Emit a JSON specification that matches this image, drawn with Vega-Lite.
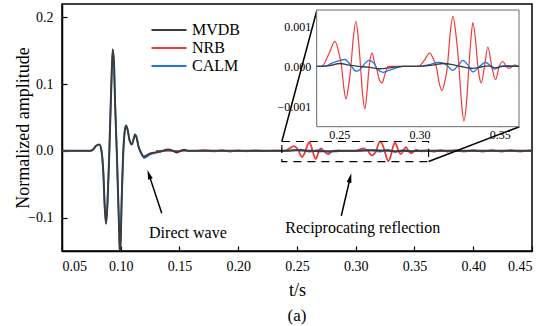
{
"$schema": "https://vega.github.io/schema/vega-lite/v6.json",
"width": 470, "height": 247,
"autosize": {"type": "none"},
"padding": {"left": 62, "top": 4, "right": 18, "bottom": 75},
"title": {"text": "(a)", "orient": "bottom", "fontSize": 17, "fontWeight": "normal", "font": "Liberation Serif", "offset": 9, "color": "black"},
"config": {
  "font": "Liberation Serif",
  "view": {"stroke": "black", "strokeWidth": 1.5},
  "axis": {"labelColor": "black", "titleColor": "black", "grid": false, "domainColor": "black", "tickColor": "black", "titleFontWeight": "normal", "labelOverlap": false, "labelFont": "Liberation Serif", "titleFont": "Liberation Serif"},
  "legend": {"labelFont": "Liberation Serif", "labelColor": "black"}
},
"datasets": {
  "main": [
    {"s":"NRB","t":0.13,"v":0},{"s":"NRB","t":0.165,"v":0},{"s":"NRB","t":0.172,"v":0.0012},{"s":"NRB","t":0.179,"v":-0.0008},{"s":"NRB","t":0.186,"v":0.001},{"s":"NRB","t":0.193,"v":-0.001},{"s":"NRB","t":0.2,"v":0.0008},{"s":"NRB","t":0.207,"v":-0.0006},{"s":"NRB","t":0.214,"v":0.0008},{"s":"NRB","t":0.222,"v":-0.0005},{"s":"NRB","t":0.23,"v":0.0004},{"s":"NRB","t":0.2391,"v":0},{"s":"NRB","t":0.2435,"v":0.0035},{"s":"NRB","t":0.2474,"v":0.0071},{"s":"NRB","t":0.25,"v":0.0035},{"s":"NRB","t":0.2515,"v":0},{"s":"NRB","t":0.2528,"v":-0.0058},{"s":"NRB","t":0.2542,"v":-0.0093},{"s":"NRB","t":0.2558,"v":-0.0058},{"s":"NRB","t":0.2573,"v":0},{"s":"NRB","t":0.2588,"v":0.0081},{"s":"NRB","t":0.2604,"v":0.0129},{"s":"NRB","t":0.2619,"v":0.0081},{"s":"NRB","t":0.2633,"v":0},{"s":"NRB","t":0.2646,"v":-0.0081},{"s":"NRB","t":0.266,"v":-0.0122},{"s":"NRB","t":0.2674,"v":-0.0069},{"s":"NRB","t":0.2687,"v":0},{"s":"NRB","t":0.2705,"v":0.0038},{"s":"NRB","t":0.272,"v":0.0012},{"s":"NRB","t":0.2736,"v":-0.0012},{"s":"NRB","t":0.2752,"v":-0.004},{"s":"NRB","t":0.2767,"v":-0.0047},{"s":"NRB","t":0.2785,"v":-0.0023},{"s":"NRB","t":0.2805,"v":0},{"s":"NRB","t":0.2855,"v":0.0006},{"s":"NRB","t":0.2905,"v":-0.0005},{"s":"NRB","t":0.2991,"v":0},{"s":"NRB","t":0.303,"v":0.0017},{"s":"NRB","t":0.3064,"v":0.0038},{"s":"NRB","t":0.309,"v":0.0017},{"s":"NRB","t":0.3105,"v":0},{"s":"NRB","t":0.3122,"v":-0.0046},{"s":"NRB","t":0.314,"v":-0.0069},{"s":"NRB","t":0.3157,"v":-0.0046},{"s":"NRB","t":0.3174,"v":0},{"s":"NRB","t":0.3191,"v":0.0092},{"s":"NRB","t":0.3208,"v":0.0143},{"s":"NRB","t":0.3227,"v":0.0092},{"s":"NRB","t":0.3246,"v":0},{"s":"NRB","t":0.3262,"v":-0.0104},{"s":"NRB","t":0.3277,"v":-0.0156},{"s":"NRB","t":0.3293,"v":-0.0104},{"s":"NRB","t":0.3308,"v":0},{"s":"NRB","t":0.3321,"v":0.008},{"s":"NRB","t":0.3333,"v":0.0125},{"s":"NRB","t":0.3348,"v":0.008},{"s":"NRB","t":0.3364,"v":0},{"s":"NRB","t":0.3375,"v":-0.0035},{"s":"NRB","t":0.3385,"v":-0.0047},{"s":"NRB","t":0.3405,"v":0},{"s":"NRB","t":0.3426,"v":0.0055},{"s":"NRB","t":0.345,"v":0},{"s":"NRB","t":0.3474,"v":-0.0038},{"s":"NRB","t":0.3497,"v":0},{"s":"NRB","t":0.3519,"v":0.0014},{"s":"NRB","t":0.354,"v":0},{"s":"NRB","t":0.356,"v":-0.0006},{"s":"NRB","t":0.36,"v":0.0008},{"s":"NRB","t":0.366,"v":-0.0012},{"s":"NRB","t":0.372,"v":0.0012},{"s":"NRB","t":0.378,"v":-0.001},{"s":"NRB","t":0.385,"v":0.0012},{"s":"NRB","t":0.392,"v":-0.001},{"s":"NRB","t":0.4,"v":0.001},{"s":"NRB","t":0.408,"v":-0.0012},{"s":"NRB","t":0.416,"v":0.001},{"s":"NRB","t":0.424,"v":-0.001},{"s":"NRB","t":0.432,"v":0.0012},{"s":"NRB","t":0.44,"v":-0.001},{"s":"NRB","t":0.448,"v":0.0008},{"s":"NRB","t":0.45,"v":0},
    {"s":"CALM","t":0.05,"v":0},{"s":"CALM","t":0.074,"v":0},{"s":"CALM","t":0.0765,"v":0.002},{"s":"CALM","t":0.079,"v":0.0075},{"s":"CALM","t":0.0818,"v":0.0096},{"s":"CALM","t":0.0836,"v":0},{"s":"CALM","t":0.0852,"v":-0.0336},{"s":"CALM","t":0.0864,"v":-0.085},{"s":"CALM","t":0.0875,"v":-0.109},{"s":"CALM","t":0.0888,"v":-0.075},{"s":"CALM","t":0.0903,"v":0},{"s":"CALM","t":0.092,"v":0.1},{"s":"CALM","t":0.0932,"v":0.152},{"s":"CALM","t":0.0944,"v":0.125},{"s":"CALM","t":0.0951,"v":0.076},{"s":"CALM","t":0.0966,"v":0},{"s":"CALM","t":0.0983,"v":-0.0995},{"s":"CALM","t":0.0994,"v":-0.158},{"s":"CALM","t":0.1008,"v":-0.074},{"s":"CALM","t":0.1022,"v":0},{"s":"CALM","t":0.1033,"v":0.028},{"s":"CALM","t":0.1045,"v":0.038},{"s":"CALM","t":0.1058,"v":0.032},{"s":"CALM","t":0.1074,"v":0.0166},{"s":"CALM","t":0.1094,"v":0.0096},{"s":"CALM","t":0.111,"v":0.018},{"s":"CALM","t":0.1122,"v":0.0246},{"s":"CALM","t":0.1135,"v":0.02},{"s":"CALM","t":0.1151,"v":0.0067},{"s":"CALM","t":0.1171,"v":-0.003},{"s":"CALM","t":0.1198,"v":-0.0108},{"s":"CALM","t":0.125,"v":-0.0055},{"s":"CALM","t":0.1335,"v":-0.0015},{"s":"CALM","t":0.1405,"v":0.0015},{"s":"CALM","t":0.1445,"v":0},{"s":"CALM","t":0.1477,"v":-0.0028},{"s":"CALM","t":0.151,"v":0},{"s":"CALM","t":0.154,"v":0.0012},{"s":"CALM","t":0.158,"v":0},{"s":"CALM","t":0.241,"v":0},{"s":"CALM","t":0.2536,"v":0.002},{"s":"CALM","t":0.2577,"v":0},{"s":"CALM","t":0.2612,"v":-0.0014},{"s":"CALM","t":0.2655,"v":0.0006},{"s":"CALM","t":0.2687,"v":0.0017},{"s":"CALM","t":0.274,"v":-0.0009},{"s":"CALM","t":0.2774,"v":-0.0017},{"s":"CALM","t":0.2855,"v":-0.0005},{"s":"CALM","t":0.29,"v":0},{"s":"CALM","t":0.3,"v":0},{"s":"CALM","t":0.312,"v":0.0011},{"s":"CALM","t":0.3207,"v":-0.0011},{"s":"CALM","t":0.3271,"v":0.0017},{"s":"CALM","t":0.3333,"v":-0.0016},{"s":"CALM","t":0.3411,"v":0.0011},{"s":"CALM","t":0.3467,"v":-0.0008},{"s":"CALM","t":0.352,"v":0},{"s":"CALM","t":0.45,"v":0},
    {"s":"MVDB","t":0.05,"v":0},{"s":"MVDB","t":0.074,"v":0},{"s":"MVDB","t":0.0765,"v":0.002},{"s":"MVDB","t":0.079,"v":0.0075},{"s":"MVDB","t":0.0818,"v":0.0096},{"s":"MVDB","t":0.0836,"v":0},{"s":"MVDB","t":0.0852,"v":-0.0336},{"s":"MVDB","t":0.0864,"v":-0.085},{"s":"MVDB","t":0.0875,"v":-0.109},{"s":"MVDB","t":0.0888,"v":-0.075},{"s":"MVDB","t":0.0903,"v":0},{"s":"MVDB","t":0.092,"v":0.1},{"s":"MVDB","t":0.0932,"v":0.152},{"s":"MVDB","t":0.0944,"v":0.125},{"s":"MVDB","t":0.0951,"v":0.076},{"s":"MVDB","t":0.0966,"v":0},{"s":"MVDB","t":0.0983,"v":-0.0995},{"s":"MVDB","t":0.0994,"v":-0.158},{"s":"MVDB","t":0.1008,"v":-0.074},{"s":"MVDB","t":0.1022,"v":0},{"s":"MVDB","t":0.1033,"v":0.028},{"s":"MVDB","t":0.1045,"v":0.038},{"s":"MVDB","t":0.1058,"v":0.032},{"s":"MVDB","t":0.1074,"v":0.0166},{"s":"MVDB","t":0.1094,"v":0.0096},{"s":"MVDB","t":0.111,"v":0.018},{"s":"MVDB","t":0.1122,"v":0.0246},{"s":"MVDB","t":0.1135,"v":0.02},{"s":"MVDB","t":0.1151,"v":0.0067},{"s":"MVDB","t":0.1171,"v":-0.002},{"s":"MVDB","t":0.1198,"v":-0.0086},{"s":"MVDB","t":0.125,"v":-0.004},{"s":"MVDB","t":0.1335,"v":-0.001},{"s":"MVDB","t":0.1405,"v":0.002},{"s":"MVDB","t":0.1445,"v":0},{"s":"MVDB","t":0.1477,"v":-0.002},{"s":"MVDB","t":0.151,"v":0},{"s":"MVDB","t":0.154,"v":0.0015},{"s":"MVDB","t":0.158,"v":0},{"s":"MVDB","t":0.24,"v":0},{"s":"MVDB","t":0.2505,"v":0.0008},{"s":"MVDB","t":0.262,"v":0},{"s":"MVDB","t":0.2753,"v":-0.0007},{"s":"MVDB","t":0.29,"v":0},{"s":"MVDB","t":0.3,"v":0},{"s":"MVDB","t":0.315,"v":0.0008},{"s":"MVDB","t":0.328,"v":0},{"s":"MVDB","t":0.3333,"v":-0.0006},{"s":"MVDB","t":0.34,"v":0},{"s":"MVDB","t":0.3474,"v":-0.0005},{"s":"MVDB","t":0.355,"v":0},{"s":"MVDB","t":0.45,"v":0}
  ],
  "inset": [
    {"s":"NRB","t":0.236,"v":0},{"s":"NRB","t":0.2391,"v":0},{"s":"NRB","t":0.2435,"v":0.0003},{"s":"NRB","t":0.2474,"v":0.00062},{"s":"NRB","t":0.25,"v":0.0003},{"s":"NRB","t":0.2515,"v":0},{"s":"NRB","t":0.2528,"v":-0.0005},{"s":"NRB","t":0.2542,"v":-0.00081},{"s":"NRB","t":0.2558,"v":-0.0005},{"s":"NRB","t":0.2573,"v":0},{"s":"NRB","t":0.2588,"v":0.0007},{"s":"NRB","t":0.2604,"v":0.00112},{"s":"NRB","t":0.2619,"v":0.0007},{"s":"NRB","t":0.2633,"v":0},{"s":"NRB","t":0.2646,"v":-0.0007},{"s":"NRB","t":0.266,"v":-0.00106},{"s":"NRB","t":0.2674,"v":-0.0006},{"s":"NRB","t":0.2687,"v":0},{"s":"NRB","t":0.2705,"v":0.00033},{"s":"NRB","t":0.272,"v":0.0001},{"s":"NRB","t":0.2736,"v":-0.0001},{"s":"NRB","t":0.2752,"v":-0.00035},{"s":"NRB","t":0.2767,"v":-0.00041},{"s":"NRB","t":0.2785,"v":-0.0002},{"s":"NRB","t":0.2805,"v":0},{"s":"NRB","t":0.2991,"v":0},{"s":"NRB","t":0.303,"v":0.00015},{"s":"NRB","t":0.3064,"v":0.00033},{"s":"NRB","t":0.309,"v":0.00015},{"s":"NRB","t":0.3105,"v":0},{"s":"NRB","t":0.3122,"v":-0.0004},{"s":"NRB","t":0.314,"v":-0.0006},{"s":"NRB","t":0.3157,"v":-0.0004},{"s":"NRB","t":0.3174,"v":0},{"s":"NRB","t":0.3191,"v":0.0008},{"s":"NRB","t":0.3208,"v":0.00124},{"s":"NRB","t":0.3227,"v":0.0008},{"s":"NRB","t":0.3246,"v":0},{"s":"NRB","t":0.3262,"v":-0.0009},{"s":"NRB","t":0.3277,"v":-0.00136},{"s":"NRB","t":0.3293,"v":-0.0009},{"s":"NRB","t":0.3308,"v":0},{"s":"NRB","t":0.3321,"v":0.0007},{"s":"NRB","t":0.3333,"v":0.00109},{"s":"NRB","t":0.3348,"v":0.0007},{"s":"NRB","t":0.3364,"v":0},{"s":"NRB","t":0.3375,"v":-0.0003},{"s":"NRB","t":0.3385,"v":-0.00041},{"s":"NRB","t":0.3405,"v":0},{"s":"NRB","t":0.3426,"v":0.00048},{"s":"NRB","t":0.345,"v":0},{"s":"NRB","t":0.3474,"v":-0.00033},{"s":"NRB","t":0.3497,"v":0},{"s":"NRB","t":0.3519,"v":0.00012},{"s":"NRB","t":0.354,"v":0},{"s":"NRB","t":0.356,"v":-0.00005},{"s":"NRB","t":0.359,"v":0.00003},{"s":"NRB","t":0.362,"v":0},
    {"s":"CALM","t":0.236,"v":0},{"s":"CALM","t":0.241,"v":0},{"s":"CALM","t":0.2455,"v":0.00008},{"s":"CALM","t":0.2505,"v":0.00015},{"s":"CALM","t":0.2536,"v":0.00017},{"s":"CALM","t":0.2557,"v":0.0001},{"s":"CALM","t":0.2577,"v":0},{"s":"CALM","t":0.2595,"v":-0.0001},{"s":"CALM","t":0.2612,"v":-0.00012},{"s":"CALM","t":0.263,"v":-0.00008},{"s":"CALM","t":0.2655,"v":0.00005},{"s":"CALM","t":0.2687,"v":0.00015},{"s":"CALM","t":0.2715,"v":0.00008},{"s":"CALM","t":0.274,"v":-0.00008},{"s":"CALM","t":0.2774,"v":-0.00015},{"s":"CALM","t":0.281,"v":-0.0001},{"s":"CALM","t":0.2855,"v":-0.00004},{"s":"CALM","t":0.29,"v":0},{"s":"CALM","t":0.3,"v":0},{"s":"CALM","t":0.306,"v":0.00004},{"s":"CALM","t":0.312,"v":0.0001},{"s":"CALM","t":0.3165,"v":0.00005},{"s":"CALM","t":0.3207,"v":-0.0001},{"s":"CALM","t":0.324,"v":0.00002},{"s":"CALM","t":0.3271,"v":0.00015},{"s":"CALM","t":0.3302,"v":0.00003},{"s":"CALM","t":0.3333,"v":-0.00014},{"s":"CALM","t":0.337,"v":-0.00002},{"s":"CALM","t":0.3411,"v":0.0001},{"s":"CALM","t":0.344,"v":0.00002},{"s":"CALM","t":0.3467,"v":-0.00007},{"s":"CALM","t":0.35,"v":0},{"s":"CALM","t":0.354,"v":0.00002},{"s":"CALM","t":0.362,"v":0},
    {"s":"MVDB","t":0.236,"v":0},{"s":"MVDB","t":0.244,"v":0.00002},{"s":"MVDB","t":0.2505,"v":0.00007},{"s":"MVDB","t":0.256,"v":0.00003},{"s":"MVDB","t":0.262,"v":0},{"s":"MVDB","t":0.268,"v":-0.00002},{"s":"MVDB","t":0.2753,"v":-0.00006},{"s":"MVDB","t":0.282,"v":-0.00003},{"s":"MVDB","t":0.29,"v":0},{"s":"MVDB","t":0.3,"v":0},{"s":"MVDB","t":0.308,"v":0.00003},{"s":"MVDB","t":0.315,"v":0.00007},{"s":"MVDB","t":0.322,"v":0.00003},{"s":"MVDB","t":0.328,"v":-0.00002},{"s":"MVDB","t":0.3333,"v":-0.00005},{"s":"MVDB","t":0.339,"v":-0.00001},{"s":"MVDB","t":0.343,"v":0.00001},{"s":"MVDB","t":0.3474,"v":-0.00004},{"s":"MVDB","t":0.352,"v":0},{"s":"MVDB","t":0.362,"v":0}
  ]
},
"layer": [
  {
    "layer": [
      {"data": {"name": "main"}, "transform": [{"filter": "datum.s === 'NRB'"}],
       "mark": {"type": "line", "interpolate": "monotone", "strokeWidth": 1.8, "clip": true},
       "encoding": {
         "x": {"field": "t", "type": "quantitative", "scale": {"domain": [0.05, 0.45], "nice": false, "zero": false},
               "axis": {"title": "t/s", "values": [0.05,0.1,0.15,0.2,0.25,0.3,0.35,0.4,0.45], "format": ".2f", "tickSize": -5, "tickWidth": 1.2, "labelFont": "Liberation Serif", "titleFont": "Liberation Serif", "labelFontSize": 14, "labelPadding": 13, "titleFontSize": 18, "titlePadding": 8, "domainWidth": 1.5}},
         "y": {"field": "v", "type": "quantitative", "scale": {"domain": [-0.15, 0.22], "nice": false, "zero": false},
               "axis": {"title": "Normalized amplitude", "values": [-0.1, 0, 0.1, 0.2], "format": ".1f", "tickSize": -5, "tickWidth": 1.2, "labelFont": "Liberation Serif", "titleFont": "Liberation Serif", "labelFontSize": 14, "labelPadding": 14, "titleFontSize": 18, "titlePadding": -5, "domainWidth": 1.5}},
         "color": {"field": "s", "type": "nominal", "scale": {"domain": ["MVDB", "NRB", "CALM"], "range": ["#3c3c3c", "#f23a3a", "#1f74e4"]},
                   "legend": {"orient": "none", "legendX": 99, "legendY": 18, "title": null, "labelFont": "Liberation Serif", "labelFontSize": 16, "symbolType": "M-3.5,0H3.5", "symbolSize": 100, "symbolStrokeWidth": 2, "symbolFillColor": "transparent", "labelOffset": 15, "rowPadding": 2}}
       }},
      {"data": {"name": "main"}, "transform": [{"filter": "datum.s === 'CALM'"}],
       "mark": {"type": "line", "interpolate": "monotone", "strokeWidth": 1.6, "clip": true},
       "encoding": {"x": {"field": "t", "type": "quantitative"}, "y": {"field": "v", "type": "quantitative"}, "color": {"field": "s", "type": "nominal"}}},
      {"data": {"name": "main"}, "transform": [{"filter": "datum.s === 'MVDB'"}],
       "mark": {"type": "line", "interpolate": "monotone", "strokeWidth": 2, "clip": true},
       "encoding": {"x": {"field": "t", "type": "quantitative"}, "y": {"field": "v", "type": "quantitative"}, "color": {"field": "s", "type": "nominal"}}},
      {"data": {"values": [{"xa": 0.2371, "xb": 0.362, "ya": 0.014, "yb": -0.016}]},
       "mark": {"type": "rect", "fillOpacity": 0, "stroke": "black", "strokeWidth": 1.2, "strokeDash": [8, 6]},
       "encoding": {"x": {"field": "xa", "type": "quantitative"}, "x2": {"field": "xb"}, "y": {"field": "ya", "type": "quantitative"}, "y2": {"field": "yb"}}},
      {"data": {"values": [{"xa": 0.2371, "ya": 0.014, "xb": 0.267, "yb": 0.2111}, {"xa": 0.362, "ya": -0.016, "xb": 0.4393, "yb": 0.0362}]},
       "mark": {"type": "rule", "color": "black", "strokeWidth": 1.5},
       "encoding": {"x": {"field": "xa", "type": "quantitative"}, "x2": {"field": "xb"}, "y": {"field": "ya", "type": "quantitative"}, "y2": {"field": "yb"}}},
      {"data": {"values": [{"xa": 0.1349, "ya": -0.0935, "xb": 0.1243, "yb": -0.0371}, {"xa": 0.2877, "ya": -0.0975, "xb": 0.295, "yb": -0.0422}]},
       "mark": {"type": "rule", "color": "black", "strokeWidth": 1.5},
       "encoding": {"x": {"field": "xa", "type": "quantitative"}, "x2": {"field": "xb"}, "y": {"field": "ya", "type": "quantitative"}, "y2": {"field": "yb"}}},
      {"data": {"values": [{"xa": 0.1243, "ya": -0.0371}]},
       "mark": {"type": "point", "shape": "M0,-1L0.4,0.6L-0.4,0.6Z", "size": 144, "filled": true, "color": "black", "opacity": 1, "angle": -18.4},
       "encoding": {"x": {"field": "xa", "type": "quantitative"}, "y": {"field": "ya", "type": "quantitative"}}},
      {"data": {"values": [{"xa": 0.295, "ya": -0.0422}]},
       "mark": {"type": "point", "shape": "M0,-1L0.4,0.6L-0.4,0.6Z", "size": 144, "filled": true, "color": "black", "opacity": 1, "angle": 13.2},
       "encoding": {"x": {"field": "xa", "type": "quantitative"}, "y": {"field": "ya", "type": "quantitative"}}},
      {"data": {"values": [{"xa": 0.1241, "ya": -0.123, "label": "Direct wave"}, {"xa": 0.24, "ya": -0.1159, "label": "Reciprocating reflection"}]},
       "mark": {"type": "text", "align": "left", "baseline": "middle", "font": "Liberation Serif", "fontSize": 16, "color": "black"},
       "encoding": {"x": {"field": "xa", "type": "quantitative"}, "y": {"field": "ya", "type": "quantitative"}, "text": {"field": "label"}}}
    ]
  },
  {
    "layer": [
      {"data": {"values": [{"xa": 0.236, "xb": 0.362, "ya": -0.0015, "yb": 0.0014}]},
       "mark": {"type": "rect", "fill": "white", "stroke": "#6b6b6b", "strokeWidth": 1},
       "encoding": {
         "x": {"field": "xa", "type": "quantitative", "scale": {"domain": [0.236, 0.362], "range": [254.7, 457], "nice": false, "zero": false},
               "axis": {"title": null, "orient": "bottom", "offset": -124.3, "values": [0.25, 0.3, 0.35], "format": ".2f", "tickSize": -3, "tickColor": "#555555", "domain": false, "labelFont": "Liberation Serif", "labelFontSize": 12, "labelPadding": 6}},
         "x2": {"field": "xb"},
         "y": {"field": "ya", "type": "quantitative", "scale": {"domain": [-0.0015, 0.0014], "range": [122.7, 6], "nice": false, "zero": false},
               "axis": {"title": null, "orient": "left", "offset": -254.7, "values": [-0.001, 0, 0.001], "format": ".3f", "tickSize": -3, "tickColor": "#555555", "domain": false, "labelFont": "Liberation Serif", "labelFontSize": 12, "labelPadding": 9}},
         "y2": {"field": "yb"}
       }},
      {"data": {"name": "inset"}, "transform": [{"filter": "datum.s === 'NRB'"}],
       "mark": {"type": "line", "interpolate": "monotone", "strokeWidth": 1.2},
       "encoding": {"x": {"field": "t", "type": "quantitative"}, "y": {"field": "v", "type": "quantitative"}, "color": {"field": "s", "type": "nominal"}}},
      {"data": {"name": "inset"}, "transform": [{"filter": "datum.s === 'CALM'"}],
       "mark": {"type": "line", "interpolate": "monotone", "strokeWidth": 1.3},
       "encoding": {"x": {"field": "t", "type": "quantitative"}, "y": {"field": "v", "type": "quantitative"}, "color": {"field": "s", "type": "nominal"}}},
      {"data": {"name": "inset"}, "transform": [{"filter": "datum.s === 'MVDB'"}],
       "mark": {"type": "line", "interpolate": "monotone", "strokeWidth": 1.3},
       "encoding": {"x": {"field": "t", "type": "quantitative"}, "y": {"field": "v", "type": "quantitative"}, "color": {"field": "s", "type": "nominal"}}}
    ]
  }
],
"resolve": {"scale": {"x": "independent", "y": "independent"}}
}
